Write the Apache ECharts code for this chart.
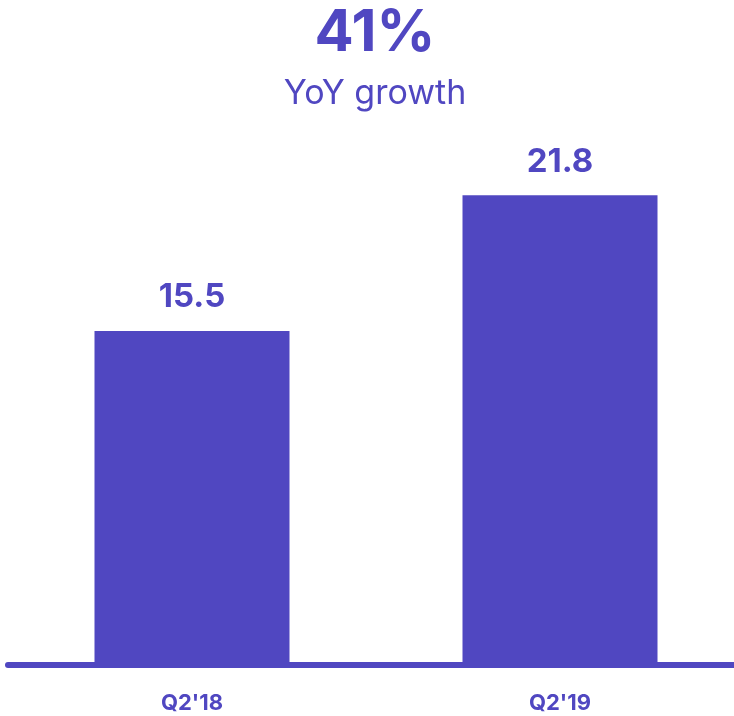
<!DOCTYPE html>
<html>
<head>
<meta charset="utf-8">
<script src="https://cdn.jsdelivr.net/npm/echarts@6/dist/echarts.min.js"></script>
<style>html,body{margin:0;padding:0;background:#fff;overflow:hidden;width:734px;height:716px;}#c{width:744px;height:716px;}</style>
</head>
<body>
<div id="c"></div>
<script>
const categories = ["Q2'18", "Q2'19"];
const values = [15.5, 21.8];
const headline = "41%";
const subline = "YoY growth";

const COLOR = '#5047C1';
const FONT = 'Inter, "Noto Sans", sans-serif';
const chart = echarts.init(document.getElementById('c'));
chart.setOption({
  animation: false,
  backgroundColor: '#fff',
  title: {
    text: headline,
    subtext: subline,
    left: 370,
    textAlign: 'center',
    top: 0,
    itemGap: 14,
    textStyle: { color: COLOR, fontFamily: FONT, fontSize: 58, fontWeight: 'bold' },
    subtextStyle: { color: COLOR, fontFamily: FONT, fontSize: 34, fontWeight: 'normal' }
  },
  grid: { left: 8, right: 0, top: 18.5, bottom: 51 },
  xAxis: {
    type: 'category',
    data: categories,
    axisLine: { show: true, lineStyle: { color: COLOR, width: 6 } },
    axisTick: { show: false },
    axisLabel: { color: COLOR, fontFamily: FONT, fontSize: 22, fontWeight: 'bold', margin: 27 }
  },
  yAxis: {
    type: 'value',
    min: 0, max: 30,
    show: false,
    splitLine: { show: false }
  },
  series: [{
    type: 'bar',
    data: values,
    barWidth: 195,
    itemStyle: { color: COLOR },
    label: {
      show: true,
      position: 'top',
      distance: 17,
      color: COLOR,
      fontFamily: FONT,
      fontSize: 33,
      fontWeight: 'bold',
      formatter: p => p.value.toFixed(1)
    }
  }]
});
</script>
</body>
</html>
